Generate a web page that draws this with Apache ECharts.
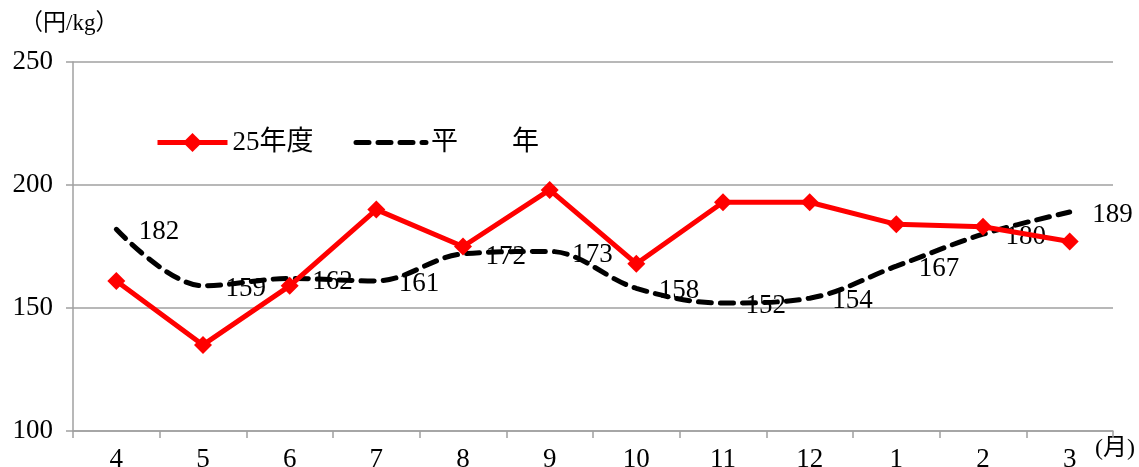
<!DOCTYPE html>
<html>
<head>
<meta charset="utf-8">
<script src="https://cdn.jsdelivr.net/npm/echarts@6/dist/echarts.min.js"></script>
<style>
  html, body { margin: 0; padding: 0; background: #fff; }
  #chart { width: 1139px; height: 467px; }
</style>
</head>
<body>
<div id="chart"></div>
<script>
// Monthly price, yen per kg (fiscal year April → March)
const months = ['4', '5', '6', '7', '8', '9', '10', '11', '12', '1', '2', '3'];
const fy25 = [161, 135, 159, 190, 175, 198, 168, 193, 193, 184, 183, 177];
const normalYear = [182, 159, 162, 161, 172, 173, 158, 152, 154, 167, 180, 189];
const yTicks = { min: 100, max: 250, interval: 50 };

const FONT = "'Liberation Serif', 'DejaVu Serif', 'Noto Sans CJK JP', serif";
const AXIS_GRAY = '#a0a0a0';
const DASH = [13, 9];

const chart = echarts.init(document.getElementById('chart'), null, { renderer: 'canvas' });

chart.setOption({
  backgroundColor: '#ffffff',
  animation: false,
  textStyle: { fontFamily: FONT },
  grid: { left: 73, right: 26, top: 62, bottom: 36, outerBoundsMode: 'none', containLabel: false },
  legend: {
    left: 150,
    top: 124,
    itemWidth: 70,
    itemHeight: 24,
    itemGap: 40,
    textStyle: { fontFamily: FONT, fontSize: 27, color: '#000' },
    data: [
      { name: '25年度', lineStyle: { width: 5 } },
      {
        name: '平　　年',
        itemStyle: { color: 'rgba(0,0,0,0)', borderWidth: 0 },
        lineStyle: { width: 5, type: DASH, cap: 'round', color: '#000' }
      }
    ]
  },
  xAxis: {
    type: 'category',
    data: months,
    boundaryGap: true,
    axisLine: { lineStyle: { color: AXIS_GRAY, width: 1.5 } },
    axisTick: { show: true, length: 7, alignWithLabel: false, lineStyle: { color: AXIS_GRAY, width: 1.5 } },
    axisLabel: { color: '#000', fontSize: 27, fontFamily: FONT, margin: 15 },
    splitLine: { show: false }
  },
  yAxis: {
    type: 'value',
    min: yTicks.min,
    max: yTicks.max,
    interval: yTicks.interval,
    axisLine: { show: true, lineStyle: { color: AXIS_GRAY, width: 1.5 } },
    axisTick: { show: true, length: 7, lineStyle: { color: AXIS_GRAY, width: 1.5 } },
    axisLabel: { color: '#000', fontSize: 27, fontFamily: FONT, margin: 20 },
    splitLine: { show: true, lineStyle: { color: AXIS_GRAY, width: 1.5 } }
  },
  graphic: [
    {
      type: 'text', left: 20, top: 12,
      style: { text: '（円/kg）', fontSize: 23, fontFamily: FONT, fill: '#000' }
    },
    {
      type: 'text', left: 1095, top: 437,
      style: { text: '(月)', fontSize: 24, fontFamily: FONT, fill: '#000' }
    }
  ],
  series: [
    {
      name: '平　　年',
      type: 'line',
      data: normalYear,
      smooth: 0.35,
      symbol: 'circle',
      symbolSize: 1,
      showSymbol: true,
      lineStyle: { color: '#000', width: 5, type: DASH, cap: 'round' },
      itemStyle: { color: 'rgba(0,0,0,0)', borderWidth: 0 },
      label: {
        show: true,
        position: 'right',
        distance: 22,
        offset: [0, 3],
        fontSize: 27,
        fontFamily: FONT,
        color: '#000'
      },
      z: 2
    },
    {
      name: '25年度',
      type: 'line',
      data: fy25,
      symbol: 'diamond',
      symbolSize: 18,
      lineStyle: { color: '#ff0000', width: 5 },
      itemStyle: { color: '#ff0000' },
      z: 3
    }
  ]
});
</script>
</body>
</html>
